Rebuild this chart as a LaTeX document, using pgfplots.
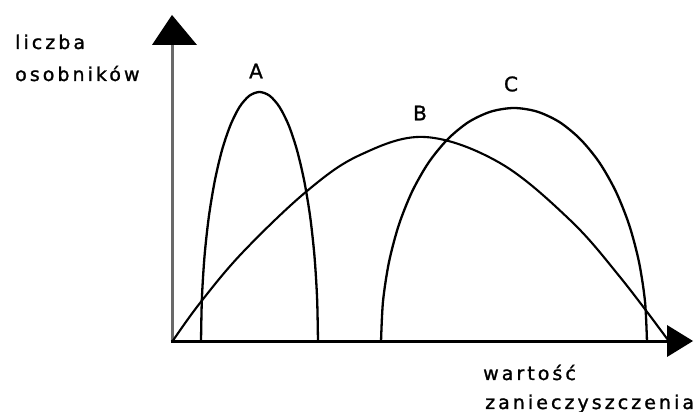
\documentclass[border=0pt]{standalone}
\usepackage{pgfplots}
\pgfplotsset{compat=1.18}
\usepackage{fontspec}
\setmainfont{DejaVu Sans}[LetterSpace=16, FakeBold=1.2]
\definecolor{axgray}{RGB}{105,105,105}
\begin{document}
\begin{tikzpicture}
\begin{axis}[at={(0,0)}, anchor=south west, scale only axis,
  width=694pt, height=412pt, xmin=0, xmax=694, ymin=0, ymax=412,
  axis lines=none, clip=false]
% y axis
\draw[axgray, line width=3pt] (axis cs:172,69) -- (axis cs:172,368);
\fill[black] (axis cs:152,367) -- (axis cs:197,367) -- (axis cs:172,397) -- cycle;
% x axis
\draw[black, line width=3pt] (axis cs:170.5,70) -- (axis cs:668,70);
\fill[black] (axis cs:667,87) -- (axis cs:667,55) -- (axis cs:693,71) -- cycle;
% A
\addplot[black, line width=2.3pt, smooth, tension=0.5] coordinates {
(201,70) (201.9,113.4) (204.5,155.5) (208.8,195) (214.7,230.7) (221.9,261.5)
(230.3,286.5) (239.5,305) (249.3,316.2) (259.5,320) (269.7,316.2) (279.5,305)
(288.8,286.5) (297.1,261.5) (304.3,230.7) (310.2,195) (314.5,155.5) (317.1,113.4) (318,70)};
% C
\addplot[black, line width=2.3pt, smooth, tension=0.5] coordinates {
(381,70) (383,110.6) (389,150) (398.8,187) (412.1,220.4) (428.5,249.3)
(447.5,272.6) (468.5,289.9) (490.9,300.4) (514,304) (537.1,300.4) (559.5,289.9)
(580.5,272.6) (599.5,249.3) (615.9,220.4) (629.2,187) (639,150) (645,110.6) (647,70)};
% B
\addplot[black, line width=2.1pt, smooth, tension=0.6] coordinates {
(172,70) (200,109) (243,160) (307,221) (360,257) (425,275)
(500,249) (570,192) (620,135) (668,72)};
% labels
\node[font=\fontsize{20}{20}\selectfont, anchor=center] at (axis cs:256,341) {A};
\node[font=\fontsize{20}{20}\selectfont, anchor=center] at (axis cs:420,299) {B};
\node[font=\fontsize{20}{20}\selectfont, anchor=center] at (axis cs:511,328) {C};
\node[font=\fontsize{19}{19}\selectfont, anchor=base west, inner sep=0pt] at (axis cs:15,363) {liczba};
\node[font=\fontsize{19}{19}\selectfont, anchor=base west, inner sep=0pt] at (axis cs:15,331) {osobników};
\node[font=\fontsize{19}{19}\selectfont, anchor=base west, inner sep=0pt] at (axis cs:483,32) {wartość};
\node[font=\fontsize{19}{19}\selectfont, anchor=base west, inner sep=0pt] at (axis cs:485,3) {zanieczyszczenia};
\end{axis}
\pgfresetboundingbox
\useasboundingbox (0,0) rectangle (694pt,412pt);
\end{tikzpicture}
\end{document}
